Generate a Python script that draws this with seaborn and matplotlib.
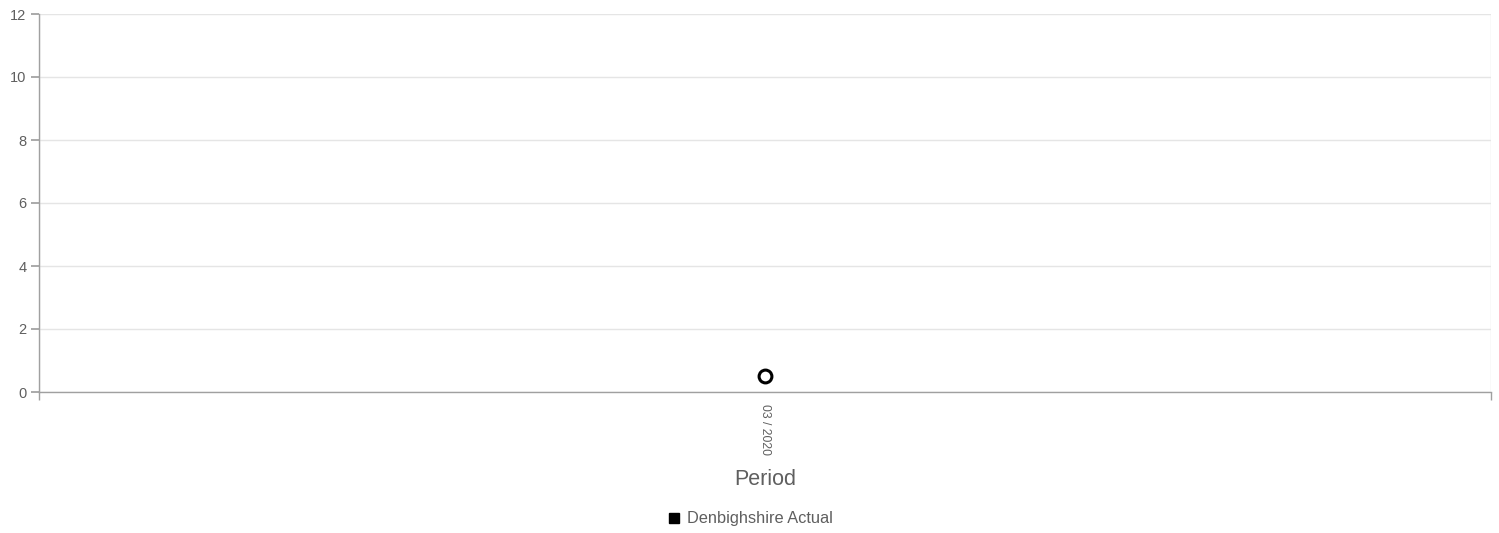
"""Denbighshire actual by period."""

import matplotlib

matplotlib.use("Agg")

import matplotlib.pyplot as plt
import pandas as pd
import seaborn as sns
from matplotlib.lines import Line2D

periods = ["03 / 2020"]
actual = [0.5]
series_name = "Denbighshire Actual"

sns.set_theme(style="white")
plt.rcParams["font.family"] = ["Liberation Sans", "DejaVu Sans"]

data = pd.DataFrame({"Period": periods, "Value": actual})

fig = plt.figure(figsize=(14.99, 5.33), dpi=100)
ax = fig.add_axes([39 / 1499, 1 - 392 / 533, (1491 - 39) / 1499, (392 - 14) / 533])

sns.scatterplot(
    data=data,
    x="Period",
    y="Value",
    ax=ax,
    s=85,
    facecolor="white",
    edgecolor="black",
    linewidth=2.2,
    zorder=3,
    legend=False,
)

ax.set_xlim(-0.5, len(periods) - 0.5)
ax.set_ylim(0, 12)
ax.set_yticks(range(0, 13, 2))
ax.yaxis.grid(True, color="#e5e5e5", linewidth=1)
for xb in [-0.5, len(periods) - 0.5]:
    ax.axvline(xb, color="#e5e5e5", linewidth=1, zorder=0)

for side in ["top", "right"]:
    ax.spines[side].set_visible(False)
for side in ["left", "bottom"]:
    ax.spines[side].set_color("#a0a0a0")
    ax.spines[side].set_linewidth(1)

ax.tick_params(axis="y", left=True, length=6, color="#a0a0a0", labelsize=10.5,
               labelcolor="#5f5f5f", pad=3)
ax.tick_params(axis="x", bottom=False, labelsize=8.8, labelcolor="#5f5f5f", pad=3)
for lbl in ax.get_xticklabels():
    lbl.set_rotation(-90)
    lbl.set_va("top")
    lbl.set_ha("center")

# boundary tick marks like the original category axis
ax.set_xticks([-0.5, len(periods) - 0.5], minor=True)
ax.tick_params(axis="x", which="minor", bottom=True, length=6, color="#a0a0a0")

ax.set_xlabel("Period", fontsize=15.5, color="#5f5f5f", labelpad=10)
ax.set_ylabel("")

handle = Line2D([], [], marker="s", color="black", linestyle="none", markersize=7.5)
fig.legend(
    [handle],
    [series_name],
    loc="center",
    bbox_to_anchor=(750 / 1499, 1 - 519 / 533),
    frameon=False,
    fontsize=11.8,
    labelcolor="#5f5f5f",
    handletextpad=0.4,
    handlelength=0.8,
)

fig.savefig("out.png", dpi=100)
plt.close(fig)
